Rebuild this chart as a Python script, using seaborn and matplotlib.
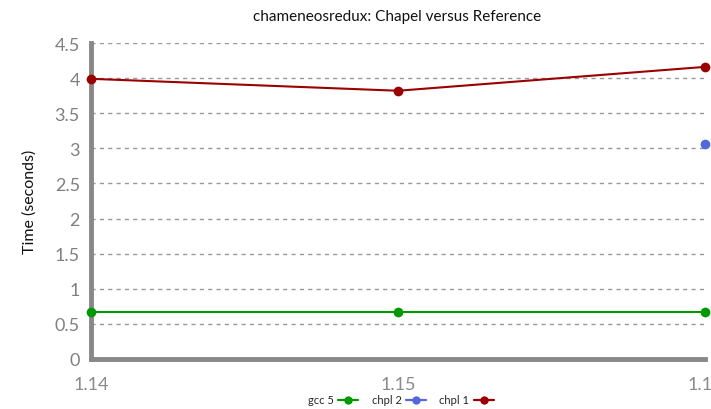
import pandas as pd
import numpy as np
import matplotlib
matplotlib.use("Agg")
import matplotlib.pyplot as plt
import seaborn as sns

# values
versions = ["1.14", "1.15", "1.16"]
gcc5 = [0.67, 0.67, 0.67]
chpl2 = [np.nan, np.nan, 3.06]
chpl1 = [3.99, 3.82, 4.16]

series_names = ["gcc 5", "chpl 2", "chpl 1"]
colors = {"gcc 5": "#009a00", "chpl 2": "#5468d8", "chpl 1": "#9a0000"}

rows = []
for name, vals in zip(series_names, [gcc5, chpl2, chpl1]):
    for i, v in enumerate(vals):
        rows.append({"pos": i, "version": versions[i], "time": v, "series": name})
df = pd.DataFrame(rows)

sns.set_style("white")
plt.rcParams["font.family"] = ["Lato", "DejaVu Sans"]

fig = plt.figure(figsize=(7.11, 4.10), dpi=100)
ax = fig.add_axes([91 / 711, 50 / 410, 614 / 711, 316 / 410])

for y in np.arange(0.5, 4.6, 0.5):
    ax.axhline(y, color="#999999", lw=1, ls=(0, (3, 3)), zorder=0)

sns.lineplot(data=df, x="pos", y="time", hue="series", hue_order=series_names,
             palette=colors, marker="o", markersize=7, markeredgewidth=0,
             linewidth=1.5, ax=ax, legend=False, clip_on=False, zorder=3)

ax.set_xlim(0, 2)
ax.set_ylim(0, 4.5)
ax.set_xticks(range(len(versions)))
ax.set_xticklabels(versions)
ax.set_yticks(np.arange(0, 4.6, 0.5))
ax.set_yticklabels(["0", "0.5", "1", "1.5", "2", "2.5", "3", "3.5", "4", "4.5"])
ax.set_xlabel("")
ax.set_ylabel("")

for side in ["top", "right"]:
    ax.spines[side].set_visible(False)
for side in ["left", "bottom"]:
    ax.spines[side].set_color("#888888")
    ax.spines[side].set_linewidth(3.5)
    ax.spines[side].set_capstyle("projecting")

ax.tick_params(axis="y", direction="in", length=7, width=3, color="#888888",
               labelcolor="#808080", labelsize=13, pad=8)
ax.tick_params(axis="x", direction="in", length=8, width=3, color="#888888",
               labelcolor="#8a8a8a", labelsize=13, pad=12)

fig.text(397 / 711, 1 - 17 / 410, "chameneosredux: Chapel versus Reference",
         ha="center", va="center", fontsize=11, color="#111111")
fig.text(30 / 711, 1 - 202 / 410, "Time (seconds)", rotation=90,
         ha="center", va="center", fontsize=11.5, color="#111111")

handles = [plt.Line2D([0], [0], color=colors[n], marker="o", markersize=6,
                      markeredgewidth=0, lw=1.6) for n in series_names]
fig.legend(handles, series_names, loc="center", bbox_to_anchor=(401 / 711, 1 - 401 / 410),
           ncol=3, frameon=False, markerfirst=False, fontsize=8,
           handlelength=1.8, handletextpad=0.4, columnspacing=1.2)

fig.savefig("out.png", dpi=100)
